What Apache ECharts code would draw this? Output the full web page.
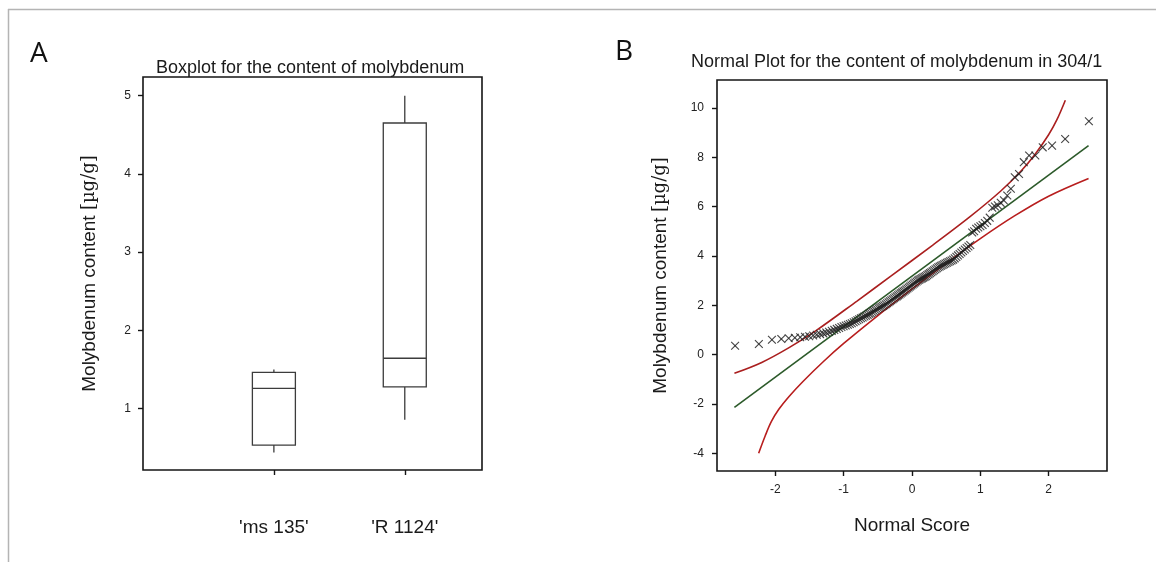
<!DOCTYPE html>
<html><head><meta charset="utf-8">
<script src="https://cdn.jsdelivr.net/npm/echarts@6/dist/echarts.min.js"></script>
<style>html,body{margin:0;padding:0;background:#fff}#c{width:1156px;height:562px}</style>
</head><body><div id="c"></div>
<script>
// ---------- Panel A: boxplot ----------
const boxCategories = ["'ms 135'", "'R 1124'"];
// [min, Q1, median, Q3, max]
const boxStats = [
  [0.44, 0.536, 1.26, 1.465, 1.50],
  [0.86, 1.28, 1.645, 4.65, 5.00]
];
const boxYTicks = [1, 2, 3, 4, 5];

// ---------- Panel B: normal plot ----------
// sorted molybdenum contents (µg/g)
const moValues = [
  0.36, 0.43, 0.60,
  0.63, 0.66, 0.68, 0.70, 0.72, 0.74, 0.77,
  0.80, 0.83, 0.86, 0.89, 0.92, 0.96, 1.00, 1.04, 1.08, 1.12,
  1.15, 1.18, 1.21, 1.24, 1.27, 1.31, 1.35, 1.39, 1.43, 1.47,
  1.50, 1.54, 1.57, 1.61, 1.65, 1.68, 1.72, 1.76, 1.80, 1.84,
  1.88, 1.91, 1.94, 1.97, 2.00, 2.04, 2.08, 2.12, 2.16, 2.20,
  2.24, 2.28, 2.32, 2.36, 2.40, 2.44, 2.48, 2.52, 2.56, 2.60,
  2.64, 2.68, 2.72, 2.76, 2.80, 2.84, 2.88, 2.92, 2.96, 3.00,
  3.03, 3.06, 3.09, 3.12, 3.15, 3.18, 3.22, 3.26, 3.30, 3.34,
  3.38, 3.42, 3.46, 3.50, 3.54, 3.57, 3.60, 3.63, 3.66, 3.69,
  3.72, 3.75, 3.78, 3.81, 3.85, 3.90, 3.96, 4.02, 4.08, 4.14,
  4.20, 4.26, 4.32, 4.38, 4.44,
  4.95, 5.00, 5.10, 5.15, 5.20, 5.25, 5.33, 5.42, 5.55,
  5.95, 6.00, 6.05, 6.15, 6.25, 6.45, 6.72, 7.19, 7.32, 7.80,
  8.07, 8.07, 8.40, 8.47, 8.74, 9.46
];
// fitted line and confidence bands [normal score, value]
const fitLine = [[-2.60, -2.14], [2.585, 8.47]];
const upperBand = [
  [-2.60, -0.76], [-2.20, -0.32], [-1.80, 0.28], [-1.40, 0.98], [-0.80, 2.18],
  [-0.30, 3.20], [0.30, 4.43], [0.85, 5.59], [1.30, 6.63], [1.60, 7.45],
  [1.80, 8.11], [2.00, 8.91], [2.12, 9.51], [2.245, 10.31]
];
const lowerBand = [
  [-2.245, -4.00], [-2.15, -3.30], [-2.06, -2.72], [-1.95, -2.22], [-1.80, -1.70],
  [-1.60, -1.10], [-1.30, -0.29], [-1.00, 0.45], [-0.50, 1.58], [0.00, 2.66],
  [0.50, 3.70], [1.00, 4.70], [1.50, 5.62], [2.00, 6.42], [2.585, 7.14]
];
const normXTicks = [-2, -1, 0, 1, 2];
const normYTicks = [-4, -2, 0, 2, 4, 6, 8, 10];

// Blom normal scores for the sorted sample (definition of the x axis of a normal plot)
function invNorm(p) {
  const a = [-3.969683028665376e+01, 2.209460984245205e+02, -2.759285104469687e+02, 1.383577518672690e+02, -3.066479806614716e+01, 2.506628277459239e+00];
  const b = [-5.447609879822406e+01, 1.615858368580409e+02, -1.556989798598866e+02, 6.680131188771972e+01, -1.328068155288572e+01];
  const c = [-7.784894002430293e-03, -3.223964580411365e-01, -2.400758277161838e+00, -2.549732539343734e+00, 4.374664141464968e+00, 2.938163982698783e+00];
  const d = [7.784695709041462e-03, 3.224671290700398e-01, 2.445134137142996e+00, 3.754408661907416e+00];
  const pl = 0.02425;
  let q, r;
  if (p < pl) { q = Math.sqrt(-2 * Math.log(p)); return (((((c[0]*q+c[1])*q+c[2])*q+c[3])*q+c[4])*q+c[5]) / ((((d[0]*q+d[1])*q+d[2])*q+d[3])*q+1); }
  if (p > 1 - pl) { q = Math.sqrt(-2 * Math.log(1 - p)); return -(((((c[0]*q+c[1])*q+c[2])*q+c[3])*q+c[4])*q+c[5]) / ((((d[0]*q+d[1])*q+d[2])*q+d[3])*q+1); }
  q = p - 0.5; r = q * q;
  return (((((a[0]*r+a[1])*r+a[2])*r+a[3])*r+a[4])*r+a[5])*q / (((((b[0]*r+b[1])*r+b[2])*r+b[3])*r+b[4])*r+1);
}
const nObs = moValues.length;
const normPoints = moValues.map((v, i) => [invNorm((i + 1 - 0.375) / (nObs + 0.25)), v]);

// ---------- chart ----------
const FONT = 'Liberation Sans';
const tickLabel = { color: '#222', fontSize: 12, fontFamily: FONT };
const frame = { show: true, borderColor: '#151515', borderWidth: 1.6, backgroundColor: '#fff' };
const tickStyle = { show: true, inside: false, length: 5, lineStyle: { color: '#151515', width: 1.4 } };
const noLine = { show: false, onZero: false };
const nameStyle = {
  fontSize: 19, fontFamily: FONT, color: '#1a1a1a',
  rich: { u: { fontFamily: 'DejaVu Serif', fontSize: 18, color: '#1a1a1a' } }
};

const chart = echarts.init(document.getElementById('c'), null, { renderer: 'canvas' });
chart.setOption({
  animation: false,
  backgroundColor: '#fff',
  title: [
    { text: 'Boxplot for the content of molybdenum', left: 151, top: 54,
      textStyle: { fontSize: 18, fontWeight: 'normal', fontFamily: FONT, color: '#1a1a1a' } },
    { text: 'Normal Plot for the content of molybdenum in 304/1', left: 686, top: 48,
      textStyle: { fontSize: 18, fontWeight: 'normal', fontFamily: FONT, color: '#1a1a1a' } }
  ],
  graphic: [
    { type: 'line', shape: { x1: 8, y1: 9.5, x2: 1156, y2: 9.5 }, style: { stroke: '#b4b4b4', lineWidth: 1.5 }, silent: true },
    { type: 'line', shape: { x1: 8.5, y1: 9, x2: 8.5, y2: 562 }, style: { stroke: '#b4b4b4', lineWidth: 1.5 }, silent: true },
    { type: 'text', left: 30, top: 40, style: { text: 'A', fontSize: 28, fontFamily: 'Open Sans', fill: '#111' } },
    { type: 'text', left: 615, top: 38, style: { text: 'B', fontSize: 28, fontFamily: 'Open Sans', fill: '#111' } }
  ],
  grid: [
    Object.assign({ left: 143, top: 77, width: 339, height: 393 }, frame),
    Object.assign({ left: 717, top: 80, width: 390, height: 391 }, frame)
  ],
  xAxis: [
    { gridIndex: 0, type: 'value', min: 0, max: 2.59,
      axisLine: noLine, splitLine: { show: false },
      axisTick: Object.assign({ customValues: [1, 2] }, tickStyle),
      axisLabel: { customValues: [1, 2], margin: 48, fontSize: 19, fontFamily: FONT, color: '#1a1a1a',
        formatter: v => boxCategories[Math.round(v) - 1] } },
    { gridIndex: 1, type: 'value', min: -2.855, max: 2.855,
      axisLine: noLine, splitLine: { show: false },
      axisTick: Object.assign({ customValues: normXTicks }, tickStyle),
      axisLabel: Object.assign({ customValues: normXTicks, margin: 13 }, tickLabel),
      name: 'Normal Score', nameLocation: 'middle', nameGap: 45, nameTextStyle: nameStyle }
  ],
  yAxis: [
    { gridIndex: 0, type: 'value', min: 0.217, max: 5.238,
      axisLine: noLine, splitLine: { show: false },
      axisTick: Object.assign({ customValues: boxYTicks }, tickStyle),
      axisLabel: Object.assign({ customValues: boxYTicks, margin: 12 }, tickLabel),
      name: 'Molybdenum content {u|[µg/g]}', nameLocation: 'middle', nameGap: 44, nameTextStyle: nameStyle },
    { gridIndex: 1, type: 'value', min: -4.72, max: 11.13,
      axisLine: noLine, splitLine: { show: false },
      axisTick: Object.assign({ customValues: normYTicks }, tickStyle),
      axisLabel: Object.assign({ customValues: normYTicks, margin: 13 }, tickLabel),
      name: 'Molybdenum content {u|[µg/g]}', nameLocation: 'middle', nameGap: 47, nameTextStyle: nameStyle }
  ],
  series: [
    { type: 'custom', xAxisIndex: 0, yAxisIndex: 0,
      data: boxStats.map((s, i) => [i + 1].concat(s)),
      encode: { x: 0, y: [1, 2, 3, 4, 5] },
      renderItem: function (params, api) {
        const x = api.value(0);
        const lo = api.coord([x, api.value(1)]);
        const q1 = api.coord([x, api.value(2)]);
        const md = api.coord([x, api.value(3)]);
        const q3 = api.coord([x, api.value(4)]);
        const hi = api.coord([x, api.value(5)]);
        const hw = 21.5;
        const st = { stroke: '#3c3c3c', lineWidth: 1.3, fill: null };
        return { type: 'group', children: [
          { type: 'line', shape: { x1: lo[0], y1: lo[1], x2: q1[0], y2: q1[1] }, style: st },
          { type: 'line', shape: { x1: q3[0], y1: q3[1], x2: hi[0], y2: hi[1] }, style: st },
          { type: 'rect', shape: { x: q3[0] - hw, y: q3[1], width: 2 * hw, height: q1[1] - q3[1] },
            style: { stroke: '#3c3c3c', lineWidth: 1.3, fill: '#fff' } },
          { type: 'line', shape: { x1: md[0] - hw, y1: md[1], x2: md[0] + hw, y2: md[1] }, style: st }
        ] };
      }
    },
    { type: 'line', xAxisIndex: 1, yAxisIndex: 1, data: upperBand, smooth: 0.35,
      showSymbol: false, symbol: 'none', lineStyle: { color: '#aa1f1f', width: 1.6 }, z: 3 },
    { type: 'line', xAxisIndex: 1, yAxisIndex: 1, data: lowerBand, smooth: 0.35,
      showSymbol: false, symbol: 'none', lineStyle: { color: '#b81e1e', width: 1.6 }, z: 3 },
    { type: 'line', xAxisIndex: 1, yAxisIndex: 1, data: fitLine,
      showSymbol: false, symbol: 'none', lineStyle: { color: '#2c5a2a', width: 1.6 }, z: 3 },
    { type: 'custom', xAxisIndex: 1, yAxisIndex: 1, data: normPoints, encode: { x: 0, y: 1 }, z: 4,
      renderItem: function (params, api) {
        const p = api.coord([api.value(0), api.value(1)]);
        const s = 3.9;
        const st = { stroke: 'rgba(35,35,35,0.85)', lineWidth: 1.1 };
        return { type: 'group', children: [
          { type: 'line', shape: { x1: p[0] - s, y1: p[1] - s, x2: p[0] + s, y2: p[1] + s }, style: st },
          { type: 'line', shape: { x1: p[0] - s, y1: p[1] + s, x2: p[0] + s, y2: p[1] - s }, style: st }
        ] };
      }
    }
  ]
});
</script></body></html>
